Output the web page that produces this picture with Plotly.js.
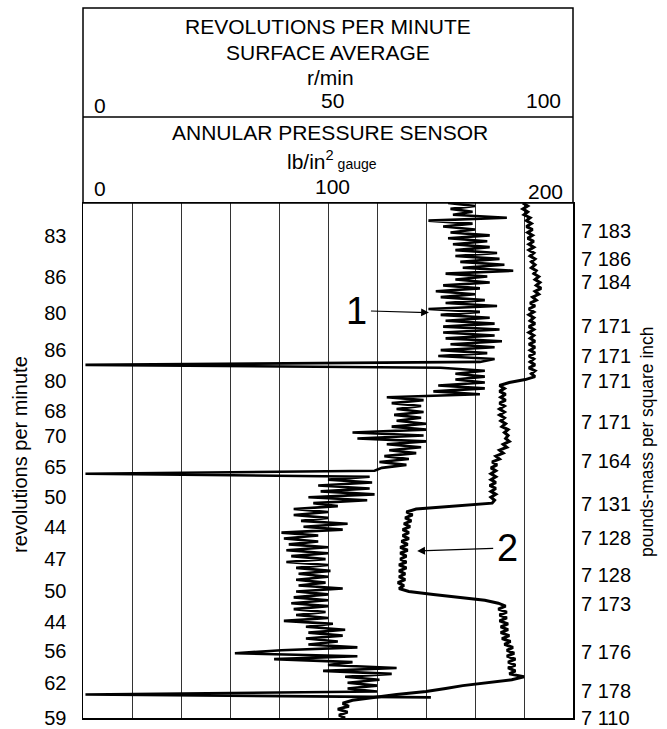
<!DOCTYPE html>
<html>
<head>
<meta charset="utf-8">
<script src="https://cdn.plot.ly/plotly-3.0.1.min.js"></script>
<style>html,body{margin:0;padding:0;background:#fff;}#chart{width:667px;height:729px;}</style>
</head>
<body>
<div id="chart"></div>
<script>
// Depth axis: 0 (top) .. 70 (bottom), grid every 10 units; samples every depthStep
const depthStep = 0.4;

// Curve 1: revolutions per minute (r/min, 0-100 scale)
const rpmValues = [
  74.5, 80, 75, 79.5, 75.5, 86.5, 70.5, 79.5, 73.5, 80,
  75, 83, 74.5, 82.5, 75.5, 83, 76, 84.5, 76, 85,
  77, 86, 77.5, 87.8, 74, 82.5, 76, 83, 73.5, 81,
  72, 80, 73, 82, 74, 84.5, 70.5, 81, 73, 83,
  74, 84, 73.5, 85, 73.5, 84, 74, 85.5, 75, 84,
  73, 82.5, 72.5, 84, 81, 0.5, 73, 82, 76, 82,
  76, 82, 72.5, 82, 71.5, 81, 62, 69.5, 63, 69,
  64, 69.5, 63.5, 69, 64, 70, 63, 70, 55, 69.5,
  56, 70, 62, 69, 62.5, 68, 61.5, 66.5, 60.5, 66,
  61, 59.5, 0.5, 58.5, 50, 59, 48, 58.5, 48.5, 59.5,
  46, 58, 47, 52, 43, 50, 43, 50, 44.5, 54,
  45, 53, 40.5, 48, 41, 48, 42, 50, 41.5, 50,
  42.5, 49.5, 41.5, 50, 43.5, 50.5, 44, 50, 43.5, 49.5,
  44, 53, 43.5, 50, 43, 50, 42.5, 50, 43, 49.5,
  43.5, 50, 41, 51, 45.5, 53.5, 46, 53, 45.5, 52,
  46, 56, 40.5, 31, 56, 39, 55, 50, 64, 49,
  63, 53.5, 60.5, 54, 60, 54, 60, 0.5, 71
];

// Curve 2: annular pressure sensor (lb/in2 gauge, 0-200 scale)
const pressureValues = [
  179.5, 181.5, 179.5, 181.5, 180, 182.5, 181, 183, 181, 183.5,
  181.5, 183.5, 181.5, 184, 182, 184, 182, 184, 182.5, 184.5,
  183, 184.5, 183, 185, 184, 186, 184.5, 186.5, 185, 187,
  184.5, 186, 183.5, 185, 182.5, 184.5, 182, 184, 182, 184,
  182.5, 184.5, 182, 184, 182, 184, 182.5, 184.5, 182, 184.5,
  182.5, 184.5, 182, 184, 182.5, 184.5, 182, 184.5, 183, 184.5,
  180.5, 174, 170, 172, 170, 172.5, 170.5, 172.5, 170, 172,
  170, 172, 170, 172, 170.5, 172.5, 171, 173.5, 172, 173.5,
  172.5, 174, 171.5, 173, 170, 171.5, 168.5, 170, 167, 169,
  166.5, 168.5, 166.5, 168.5, 166.5, 168.5, 166, 168.5, 166.5, 168.5,
  166.5, 168, 167, 150, 136, 132, 134.5, 131.5, 134, 131,
  133.5, 130.5, 133, 130.5, 133, 130, 132.5, 129.5, 132.5, 129.5,
  132, 129.5, 132, 129, 132, 129, 131.5, 129, 131.5, 128.5,
  131, 129, 133, 143, 154, 164, 169.5, 172.5, 169.5, 173,
  170, 173, 170, 173.5, 170.5, 173.5, 170.5, 174, 171, 174.5,
  172, 175.5, 173, 176, 173, 176.5, 173.5, 176.5, 173.5, 176.5,
  174, 180, 175, 165, 155, 148, 140, 128, 118, 110,
  106, 108.5, 104, 108, 104.5, 107
];

// Left side labels (r/min readings) and their depths
const rpmLabels = ["83","86","80","86","80","68","70","65","50","44","47","50","44","56","62","59"];
const rpmLabelDepths = [4.5, 10, 15, 20, 24.2, 28.3, 31.7, 35.9, 40, 44, 48.4, 52.7, 56.9, 60.9, 65.2, 70];

// Right side labels (pounds-mass per square inch) and their depths
const pressLabels = ["7 183","7 186","7 184","7 171","7 171","7 171","7 171","7 164","7 131","7 128","7 128","7 173","7 176","7 178","7 110"];
const pressLabelDepths = [3.8, 7.6, 10.7, 16.7, 20.8, 24.2, 29.8, 35.1, 40.9, 45.5, 50.6, 54.5, 61.0, 66.3, 70];

const rpmDepth = rpmValues.map((_, i) => i * depthStep);
const pressureDepth = pressureValues.map((_, i) => i * depthStep);

const FONT = 'Liberation Sans, Arial, sans-serif';
const FS = 20;

const traces = [
  { x: rpmValues, y: rpmDepth, xaxis: 'x', yaxis: 'y', mode: 'lines',
    line: { color: '#000', width: 2.6 }, hoverinfo: 'skip', showlegend: false },
  { x: pressureValues, y: pressureDepth, xaxis: 'x2', yaxis: 'y2', mode: 'lines',
    line: { color: '#000', width: 3 }, hoverinfo: 'skip', showlegend: false }
];

function px2x(px) { return (px - 83) / 490; }
function py2y(py) { return (718 - py) / 515; }

const hdr = (text, px, py, size, anchor) => ({
  text: text, xref: 'paper', yref: 'paper', x: px2x(px), y: py2y(py),
  xanchor: anchor || 'center', yanchor: 'middle', showarrow: false,
  font: { family: FONT, size: size || 21, color: '#000' }
});

const annotations = [
  hdr('REVOLUTIONS PER MINUTE', 328, 26),
  hdr('SURFACE AVERAGE', 328, 52),
  hdr('r/min', 330, 77),
  hdr('0', 100, 106),
  hdr('50', 332, 100),
  hdr('100', 543, 101),
  hdr('ANNULAR PRESSURE SENSOR', 330, 132),
  hdr('lb/in<sup>2</sup><span style="font-size:14px"> gauge</span>', 332, 160),
  hdr('0', 100, 188),
  hdr('100', 332, 186),
  hdr('200', 545, 192),
  { text: 'revolutions per minute', xref: 'paper', yref: 'paper', x: px2x(20), y: py2y(455),
    textangle: -90, showarrow: false, xanchor: 'center', yanchor: 'middle',
    font: { family: FONT, size: 20, color: '#000' } },
  { text: 'pounds-mass per square inch', xref: 'paper', yref: 'paper', x: px2x(647), y: py2y(442),
    textangle: -90, showarrow: false, xanchor: 'center', yanchor: 'middle',
    font: { family: FONT, size: 17.5, color: '#000' } },
  // curve callouts with arrows (text at the tail, head on the curve)
  { text: '1', xref: 'x', yref: 'y', x: 70.6, y: 14.9, ax: -72, ay: -2,
    axref: 'pixel', ayref: 'pixel', showarrow: true, arrowhead: 2, arrowsize: 1.3,
    arrowwidth: 1.2, arrowcolor: '#000', standoff: 0, startstandoff: 2,
    font: { family: FONT, size: 38, color: '#000' } },
  { text: '2', xref: 'x', yref: 'y', x: 68.2, y: 47.3, ax: 90, ay: -3,
    axref: 'pixel', ayref: 'pixel', showarrow: true, arrowhead: 2, arrowsize: 1.3,
    arrowwidth: 1.2, arrowcolor: '#000', standoff: 0, startstandoff: 2,
    font: { family: FONT, size: 38, color: '#000' } }
];

const shapes = [
  { type: 'rect', xref: 'paper', yref: 'paper', x0: 0, x1: 1, y0: 1, y1: py2y(8),
    line: { color: '#000', width: 1.5 } },
  { type: 'line', xref: 'paper', yref: 'paper', x0: 0, x1: 1, y0: py2y(117), y1: py2y(117),
    line: { color: '#000', width: 1.5 } }
];

const layout = {
  width: 667, height: 729,
  margin: { l: 83, r: 94, t: 203, b: 11, pad: 0 },
  paper_bgcolor: '#fff', plot_bgcolor: '#fff',
  showlegend: false,
  font: { family: FONT, size: FS, color: '#000' },
  xaxis: { range: [0, 100], dtick: 10, showgrid: true, gridcolor: '#333', gridwidth: 1,
    showticklabels: false, ticks: '', zeroline: false, showline: true, mirror: true,
    linecolor: '#000', linewidth: 1.5, fixedrange: true },
  xaxis2: { range: [0, 200], overlaying: 'x', visible: false, fixedrange: true },
  yaxis: { range: [70, 0], tickmode: 'array', tickvals: rpmLabelDepths, ticktext: rpmLabels,
    showgrid: false, zeroline: false, ticks: 'outside', ticklen: 11, tickcolor: 'rgba(0,0,0,0)',
    tickfont: { family: FONT, size: FS, color: '#000' }, showline: true, linecolor: '#000',
    linewidth: 1.5, mirror: true, fixedrange: true },
  yaxis2: { range: [70, 0], overlaying: 'y', side: 'right', anchor: 'x', tickmode: 'array',
    tickvals: pressLabelDepths, ticktext: pressLabels, showgrid: false, zeroline: false,
    ticks: 'outside', ticklen: 3, tickcolor: 'rgba(0,0,0,0)',
    tickfont: { family: FONT, size: 20, color: '#000' }, fixedrange: true },
  yaxis3: { range: [70, 0], overlaying: 'y', side: 'left', anchor: 'x', dtick: 10,
    showgrid: true, gridcolor: '#000', gridwidth: 1, showticklabels: false,
    ticks: 'outside', ticklen: 5, tickcolor: '#000', zeroline: false, fixedrange: true },
  annotations: annotations,
  shapes: shapes
};

Plotly.newPlot('chart', traces, layout, { displayModeBar: false, staticPlot: true });
</script>
</body>
</html>
